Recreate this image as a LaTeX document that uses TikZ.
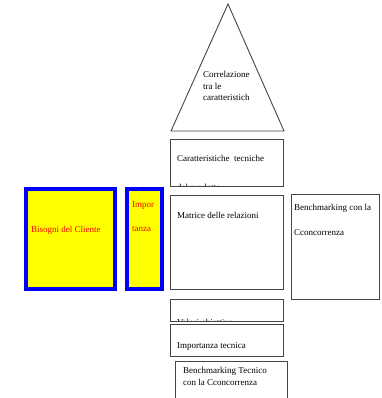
\documentclass[tikz,border=0pt]{standalone}
\usepackage{fontspec}
\setmainfont{Liberation Serif}
\definecolor{qblue}{RGB}{0,0,255}
\definecolor{qyellow}{RGB}{255,255,0}
\definecolor{qred}{RGB}{255,0,0}
\definecolor{qgray}{RGB}{70,70,70}
\begin{document}
\begin{tikzpicture}[x=1pt,y=-1pt,
  lbl/.style={inner sep=0pt,anchor=base west,font=\fontsize{9}{11}\selectfont},
  rlbl/.style={lbl,text=qred},
  plainbox/.style={draw=qgray,line width=0.9pt},
  bluebox/.style={draw=qblue,fill=qyellow,line width=4pt}]
\clip (0,0) rectangle (381,398);
\fill[white] (0,0) rectangle (381,398);
% roof
\draw[plainbox,line join=miter] (228,4) -- (284,131) -- (171,131) -- cycle;
\node[lbl] (c1) at (203,78) {Correlazione};
\node[lbl] (c2) at (203,89.5) {tra le};
\node[lbl] (c3) at (203,101) {caratteristich};
% technical characteristics
\draw[plainbox] (170,139) rectangle (283,186);
\node[lbl] (t1) at (177,161) {Caratteristiche~ tecniche};
\begin{scope}
\clip (170,139) rectangle (283,185.5);
\node[lbl] (t2) at (177,190.5) {del prodotto};
\end{scope}
% matrix
\draw[plainbox] (170,195) rectangle (283,289);
\node[lbl] (m) at (177,218) {Matrice delle relazioni};
% target values
\draw[plainbox] (170,299) rectangle (283,321);
\begin{scope}
\clip (170,299) rectangle (283,320.5);
\node[lbl] (v) at (177,325.5) {Valori obiettivo};
\end{scope}
% technical importance
\draw[plainbox] (170,324) rectangle (283,356);
\node[lbl] (it) at (177,348) {Importanza tecnica};
% technical benchmarking
\draw[plainbox] (175,361) rectangle (287,410);
\node[lbl] (bt1) at (183,373) {Benchmarking Tecnico};
\node[lbl] (bt2) at (183,385) {con la Cconcorrenza};
% competitive benchmarking
\draw[plainbox] (291,194) rectangle (379,299);
\node[lbl] (bc1) at (294,210) {Benchmarking con la};
\node[lbl] (bc2) at (294,235) {Cconcorrenza};
% customer needs
\draw[bluebox] (26,189) rectangle (115,289);
\node[rlbl] (bn) at (31,232) {Bisogni del Cliente};
\draw[bluebox] (127,189) rectangle (162,289);
\node[rlbl] (ip1) at (132,207) {Impor};
\node[rlbl] (ip2) at (132,231) {tanza};
\end{tikzpicture}
\end{document}
